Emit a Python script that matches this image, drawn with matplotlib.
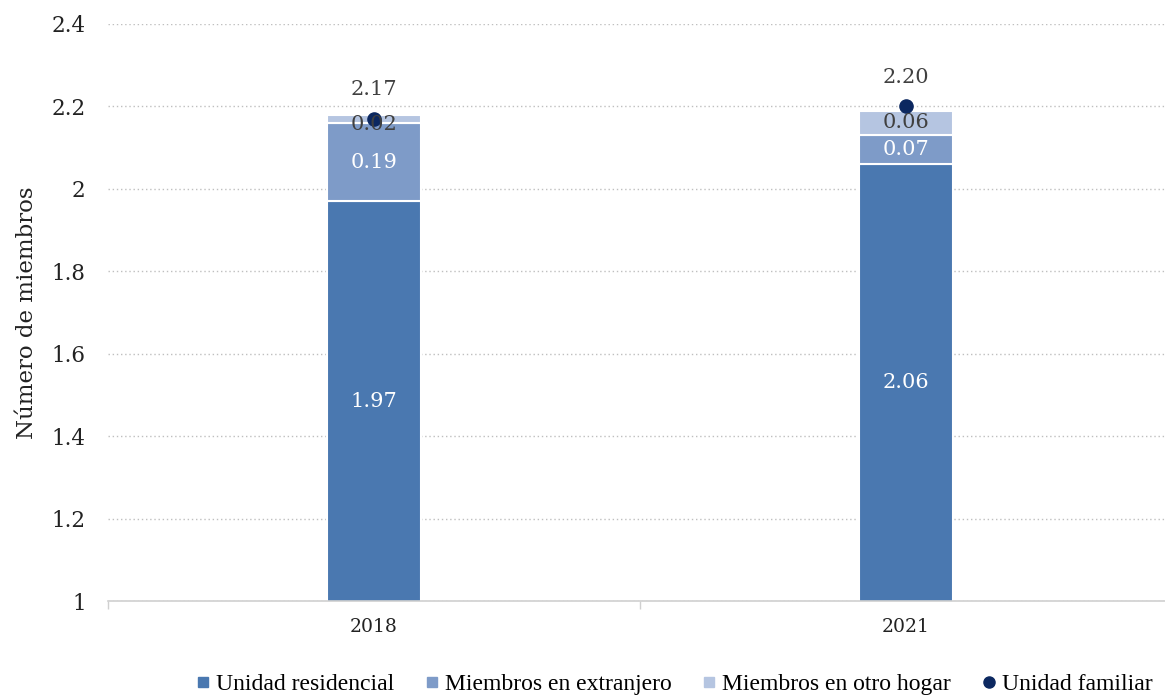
import matplotlib
matplotlib.use("Agg")
import matplotlib.pyplot as plt
from matplotlib.lines import Line2D
import numpy as np

years = ["2018", "2021"]
residencial = [1.97, 2.06]
extranjero = [0.19, 0.07]
otro_hogar = [0.02, 0.06]
familiar = [2.17, 2.20]
y_ticks = [1, 1.2, 1.4, 1.6, 1.8, 2, 2.2, 2.4]
y_tick_labels = ["1", "1.2", "1.4", "1.6", "1.8", "2", "2.2", "2.4"]
series_names = ["Unidad residencial", "Miembros en extranjero",
                "Miembros en otro hogar", "Unidad familiar"]

c_res = "#4a78b0"
c_ext = "#7e9bc8"
c_otro = "#b5c5e1"
c_dot = "#0c2860"
num_font = "DejaVu Serif"
txt_font = "Liberation Serif"

fig = plt.figure(figsize=(11.65, 6.99), dpi=100)
ax = fig.add_axes([0.0927, 0.1402, 0.9133, 0.8255])

x = np.arange(len(years))
w = 0.177
ymin = 1.0
ax.bar(x, residencial, w, bottom=0, color=c_res, edgecolor="white", linewidth=1.5, zorder=2)
bottom2 = np.array(residencial)
ax.bar(x, extranjero, w, bottom=bottom2, color=c_ext, edgecolor="white", linewidth=1.5, zorder=2)
bottom3 = bottom2 + np.array(extranjero)
ax.bar(x, otro_hogar, w, bottom=bottom3, color=c_otro, edgecolor="white", linewidth=1.5, zorder=2)
ax.scatter(x, familiar, s=90, color=c_dot, zorder=4)

# Segment labels
for i in range(len(years)):
    ax.text(x[i], ymin + (residencial[i] - ymin) / 2, f"{residencial[i]:.2f}", ha="center", va="center",
            color="white", fontsize=15, family=num_font, zorder=5)
    ax.text(x[i], bottom2[i] + extranjero[i] / 2, f"{extranjero[i]:.2f}", ha="center", va="center",
            color="white", fontsize=15, family=num_font, zorder=5)
    yo = bottom3[i] + otro_hogar[i] / 2
    if otro_hogar[i] < 0.04:
        yo -= 0.015
    ax.text(x[i], yo, f"{otro_hogar[i]:.2f}", ha="center", va="center",
            color="#404040", fontsize=15, family=num_font, zorder=5)
    ax.annotate(f"{familiar[i]:.2f}", (x[i], familiar[i]), xytext=(0, 14), textcoords="offset points",
                ha="center", va="bottom", color="#404040", fontsize=15, family=num_font, zorder=5)

ax.set_xlim(-0.5, 1.5)
ax.set_ylim(ymin, 2.4)
ax.set_yticks(y_ticks)
ax.set_yticklabels(y_tick_labels, family=num_font, fontsize=15.5, color="#222222")
ax.set_xticks(x)
ax.set_xticklabels(years, family=num_font, fontsize=13.5, color="#222222")
ax.tick_params(axis="y", length=0, pad=16)
ax.tick_params(axis="x", which="major", length=0, pad=12)
ax.set_xticks([-0.5, 0.5, 1.5], minor=True)
ax.tick_params(axis="x", which="minor", length=6, color="#d0d0d0", width=1)

ax.grid(axis="y", linestyle=(0, (1, 2)), color="#bfbfbf", linewidth=1, zorder=0)
for s in ["top", "right", "left"]:
    ax.spines[s].set_visible(False)
ax.spines["bottom"].set_color("#d0d0d0")
ax.spines["bottom"].set_linewidth(1.2)
ax.set_axisbelow(True)

ax.set_ylabel("Número de miembros", family=num_font, fontsize=16.5, color="#222222", labelpad=10)

handles = [
    Line2D([], [], marker="s", linestyle="none", markersize=7, color=c_res),
    Line2D([], [], marker="s", linestyle="none", markersize=7, color=c_ext),
    Line2D([], [], marker="s", linestyle="none", markersize=7, color=c_otro),
    Line2D([], [], marker="o", linestyle="none", markersize=8, color=c_dot),
]
fig.legend(handles, series_names, loc="lower center", bbox_to_anchor=(0.5764, -0.025), ncol=4,
           frameon=False, prop={"family": txt_font, "size": 17}, handletextpad=0.05,
           columnspacing=1.1, handlelength=1.0)

fig.savefig("out.png", dpi=100)
